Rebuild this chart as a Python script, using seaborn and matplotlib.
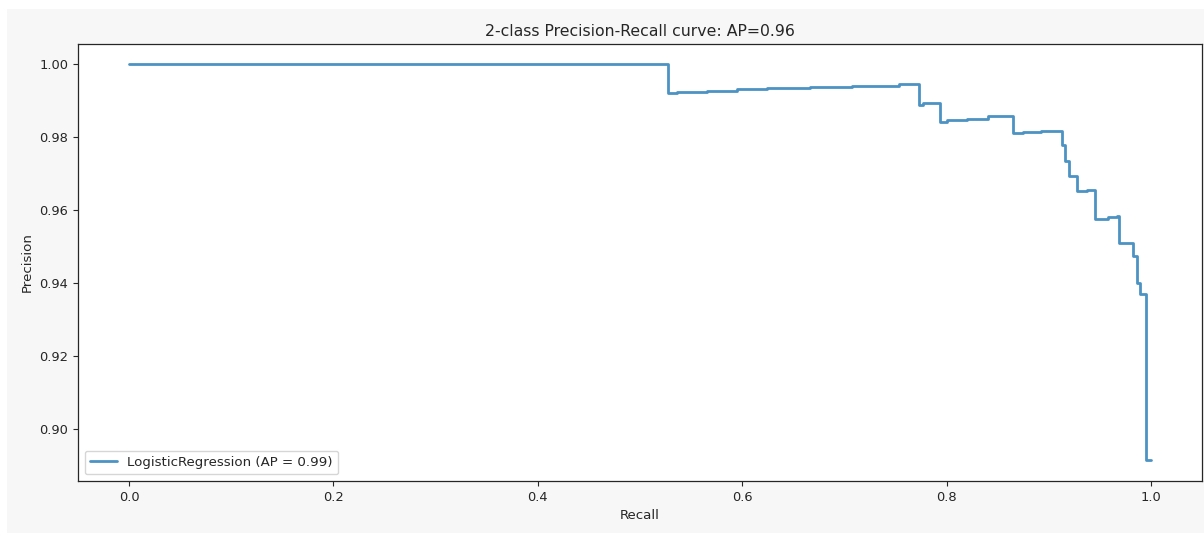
import matplotlib
matplotlib.use("Agg")
import matplotlib.pyplot as plt
from matplotlib.patches import Rectangle
import seaborn as sns

# staircase: each point is (right end of a step, level of that step)
recall = [0.0, 0.5277, 0.5362, 0.5653, 0.5946, 0.6240, 0.6663, 0.7077, 0.7537,
          0.7733, 0.7769, 0.7940, 0.8001, 0.8203, 0.8408, 0.8653, 0.8745, 0.8921,
          0.9126, 0.9159, 0.9201, 0.9276, 0.9371, 0.9452, 0.9582, 0.9667, 0.9692,
          0.9827, 0.9860, 0.9897, 0.9956, 1.0]
precision = [1.0, 1.0, 0.99191, 0.99229, 0.99264, 0.99300, 0.99338, 0.99373, 0.99403,
             0.99447, 0.98883, 0.98929, 0.98420, 0.98455, 0.98496, 0.98561, 0.98093,
             0.98128, 0.98161, 0.97779, 0.97330, 0.96921, 0.96526, 0.96559, 0.95768,
             0.95804, 0.95845, 0.95090, 0.94741, 0.94014, 0.93698, 0.89174]

model_label = "LogisticRegression (AP = 0.99)"
title = "2-class Precision-Recall curve: AP=0.96"

sns.set_style("ticks")
plt.rcParams["font.family"] = ["DejaVu Sans"]

W, H = 1204, 533
fig = plt.figure(figsize=(W / 100, H / 100), dpi=100, facecolor="white")
# notebook-style grey output area with a thin white border top/left
fig.patches.append(Rectangle((7 / W, 0), 1, (H - 9) / H, transform=fig.transFigure,
                             facecolor="#f7f7f7", edgecolor="none", zorder=-10))
ax = fig.add_axes([78 / W, 1 - 481 / H, (1202 - 78) / W, (481 - 44) / H])
ax.set_facecolor("white")

sns.lineplot(x=recall, y=precision, ax=ax, drawstyle="steps-pre", estimator=None,
             sort=False, color="#1f77b4", linewidth=2.0, alpha=0.8, label=model_label)

ax.set_xlim(-0.05, 1.05)
ax.set_ylim(0.8859, 1.0054)
ax.set_xticks([0.0, 0.2, 0.4, 0.6, 0.8, 1.0])
ax.set_yticks([0.90, 0.92, 0.94, 0.96, 0.98, 1.00])
ax.tick_params(labelsize=9.4, colors="#262626", length=3.5, width=0.8)
for s in ax.spines.values():
    s.set_color("#262626")
    s.set_linewidth(0.9)

ax.set_xlabel("Recall", fontsize=9.6, color="#262626")
ax.set_ylabel("Precision", fontsize=9.6, color="#262626")
ax.set_title(title, fontsize=11.3, color="#262626")
ax.legend(loc="lower left", fontsize=9.6, frameon=True)

fig.savefig("out.png", dpi=100, facecolor=fig.get_facecolor())
